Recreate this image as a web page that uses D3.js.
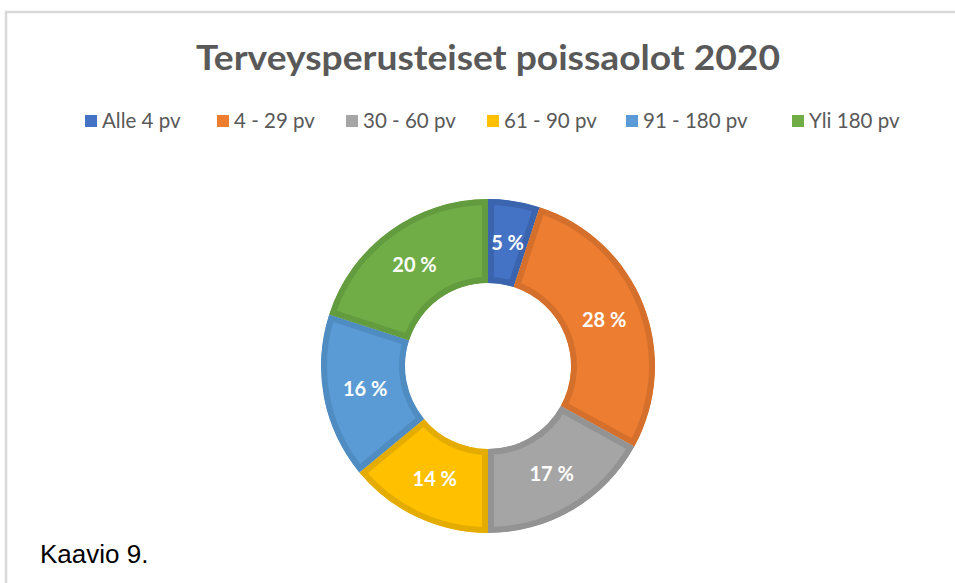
<!DOCTYPE html>
<html>
<head>
<meta charset="utf-8">
<script src="https://cdn.jsdelivr.net/npm/d3@7"></script>
<style>
  body { margin: 0; background: #fff; }
  svg { display: block; }
</style>
</head>
<body>
<div id="chart-area"></div>
<script>
// Data
const categories = ["Alle 4 pv", "4 - 29 pv", "30 - 60 pv", "61 - 90 pv", "91 - 180 pv", "Yli 180 pv"];
const values = [5, 28, 17, 14, 16, 20];
const colors = ["#4472C4", "#ED7D31", "#A5A5A5", "#FFC000", "#5B9BD5", "#70AD47"];
const borders = ["#3b64ae", "#d4702c", "#939393", "#e5ac00", "#4f8cc2", "#639c3e"];

const W = 955, H = 583;
const cx = 488, cy = 366;
const rOuter = 167, rInner = 83;

const svg = d3.select("#chart-area")
  .append("svg")
    .attr("width", W)
    .attr("height", H);

// frame
svg.append("path")
  .attr("d", "M6,583 V12 H955")
  .attr("fill", "none")
  .attr("stroke", "#d9d9d9")
  .attr("stroke-width", 2.5);

// Title
svg.append("text")
  .attr("x", cx)
  .attr("y", 70)
  .attr("text-anchor", "middle")
  .attr("font-family", "Lato, 'Open Sans', sans-serif")
  .attr("font-weight", "bold")
  .attr("font-size", "35px")
  .attr("fill", "#595959")
  .attr("textLength", 584)
  .attr("lengthAdjust", "spacingAndGlyphs")
  .text("Terveysperusteiset poissaolot 2020");

// Legend
const legendX = [85, 217, 346, 487, 626, 792];
const legend = svg.append("g");
categories.forEach((c, i) => {
  legend.append("rect")
    .attr("x", legendX[i])
    .attr("y", 115)
    .attr("width", 12)
    .attr("height", 12)
    .attr("fill", colors[i]);
  legend.append("text")
    .attr("x", legendX[i] + 17)
    .attr("y", 128)
    .attr("font-family", "Lato, 'Open Sans', sans-serif")
    .attr("font-size", "20.5px")
    .attr("fill", "#595959")
    .text(c);
});

// Pie
const pie = d3.pie().sort(null).value(d => d);
const arcs = pie(values);
const arc = d3.arc().innerRadius(rInner).outerRadius(rOuter);

const g = svg.append("g").attr("transform", "translate(" + cx + "," + cy + ")");
const defs = svg.append("defs");

arcs.forEach((d, i) => {
  defs.append("clipPath")
    .attr("id", "clip" + i)
    .append("path")
      .attr("d", arc(d));
});

g.selectAll("path.slice")
  .data(arcs)
  .enter()
  .append("path")
    .attr("class", "slice")
    .attr("d", arc)
    .attr("fill", (d, i) => colors[i])
    .attr("stroke", (d, i) => borders[i])
    .attr("stroke-width", 12)
    .attr("stroke-linejoin", "miter")
    .attr("clip-path", (d, i) => "url(#clip" + i + ")");

g.selectAll("text.lbl")
  .data(arcs)
  .enter()
  .append("text")
    .attr("class", "lbl")
    .attr("transform", d => "translate(" + arc.centroid(d) + ")")
    .attr("text-anchor", "middle")
    .attr("dy", "0.35em")
    .attr("font-family", "Lato, 'Open Sans', sans-serif")
    .attr("font-weight", "bold")
    .attr("font-size", "20px")
    .attr("fill", "#fff")
    .text(d => d.data + " %");

// caption
svg.append("text")
  .attr("x", 40)
  .attr("y", 563)
  .attr("font-family", "'Liberation Sans', Arial, sans-serif")
  .attr("font-size", "26px")
  .attr("fill", "#000")
  .text("Kaavio 9.");
</script>
</body>
</html>
